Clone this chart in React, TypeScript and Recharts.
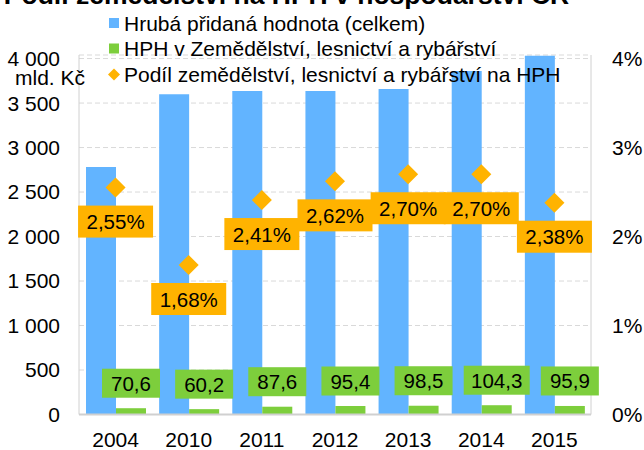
import React from 'react';
import { ComposedChart, Bar, Line, XAxis, YAxis, CartesianGrid, LabelList } from 'recharts';

const years = ['2004', '2010', '2011', '2012', '2013', '2014', '2015'];
const hphTotal = [2780, 3598, 3635, 3636, 3657, 3860, 4031];
const hphAgri = [70.6, 60.2, 87.6, 95.4, 98.5, 104.3, 95.9];
const agriShare = [2.55, 1.68, 2.41, 2.62, 2.7, 2.7, 2.38];
const leftTicks = [0, 500, 1000, 1500, 2000, 2500, 3000, 3500, 4000];
const rightTicks = [0, 1, 2, 3, 4];
const seriesNames = [
  'Hrubá přidaná hodnota (celkem)',
  'HPH v Zemědělství, lesnictví a rybářství',
  'Podíl zemědělství, lesnictví a rybářství na HPH',
];
const titleText = 'Podíl zemědělství na HPH v hospodářství ČR';
const unitText = 'mld. Kč';

const data = years.map((y, i) => ({
  year: y,
  total: hphTotal[i],
  agri: hphAgri[i],
  share: agriShare[i],
}));

const BLUE = '#62B4FF';
const GREEN = '#7DCE3C';
const ORANGE = '#FFB300';
const GRID = '#D9D9D9';
const AXIS = '#D0D0D0';
const FONT = '"Liberation Sans", Arial, sans-serif';
const FS = 21;

const fmtThousands = (v: number) =>
  v >= 1000 ? `${Math.floor(v / 1000)} ${String(v % 1000).padStart(3, '0')}` : String(v);
const fmtComma = (v: number, d: number) => v.toFixed(d).replace('.', ',');

const Diamond = (props: any) => {
  const { cx, cy, index } = props;
  if (cx == null || cy == null) return <g key={`d${index}`} />;
  const r = 10;
  return (
    <path
      key={`d${index}`}
      d={`M${cx},${cy - r} L${cx + r},${cy} L${cx},${cy + r} L${cx - r},${cy} Z`}
      fill={ORANGE}
    />
  );
};

const ShareLabel = (props: any) => {
  const { x, y, value } = props;
  const w = 75;
  const h = 32;
  const cy = y + 34;
  return (
    <g>
      <rect x={x - w / 2} y={cy - h / 2} width={w} height={h} fill={ORANGE} />
      <text x={x} y={cy} textAnchor="middle" dominantBaseline="central" fontSize={20.5} fontFamily={FONT} fill="#000">
        {fmtComma(value, 2) + '%'}
      </text>
    </g>
  );
};

const AgriLabel = (props: any) => {
  const { x, y, width, value } = props;
  const cx = x + width / 2;
  const cy = y - 25;
  const h = 29;
  const w = String(value).length > 4 ? 66 : 58;
  return (
    <g>
      <rect x={cx - w / 2} y={cy - h / 2} width={w} height={h} fill={GREEN} />
      <text x={cx} y={cy} textAnchor="middle" dominantBaseline="central" fontSize={20.5} fontFamily={FONT} fill="#000">
        {fmtComma(value, 1)}
      </text>
    </g>
  );
};

export default function App() {
  return (
    <div style={{ position: 'absolute', left: 0, top: 0, width: 644, height: 450, background: '#fff', overflow: 'hidden' }}>
      <ComposedChart
        width={644}
        height={450}
        data={data}
        margin={{ top: 55, right: 0, bottom: 0, left: 0 }}
        barGap={0}
      >
        <CartesianGrid vertical={false} stroke={GRID} strokeDasharray="5 3" yAxisId="left" />
        <XAxis
          dataKey="year"
          height={35.5}
          tickLine={false}
          tickSize={6}
          tickMargin={12}
          axisLine={{ stroke: AXIS, strokeWidth: 2 }}
          tick={{ fontSize: FS, fontFamily: FONT, fill: '#000' }}
          interval={0}
        />
        <YAxis
          yAxisId="left"
          orientation="left"
          width={79}
          domain={[0, 4040]}
          ticks={leftTicks}
          interval={0}
          tickLine={false}
          tickSize={6}
          tickMargin={13}
          axisLine={{ stroke: AXIS }}
          tickFormatter={fmtThousands}
          tick={{ fontSize: FS, fontFamily: FONT, fill: '#000' }}
        />
        <YAxis
          yAxisId="right"
          orientation="right"
          width={53}
          domain={[0, 4.04]}
          ticks={rightTicks}
          interval={0}
          tickLine={false}
          tickSize={6}
          tickMargin={15}
          axisLine={{ stroke: AXIS }}
          tickFormatter={(v: number) => `${v}%`}
          tick={{ fontSize: FS, fontFamily: FONT, fill: '#000', textAnchor: 'start' }}
        />
        <Bar yAxisId="left" dataKey="total" fill={BLUE} barSize={30} isAnimationActive={false} />
        <Bar yAxisId="left" dataKey="agri" fill={GREEN} barSize={30} isAnimationActive={false}>
          <LabelList dataKey="agri" content={AgriLabel} />
        </Bar>
        <Line
          yAxisId="right"
          dataKey="share"
          stroke="none"
          strokeWidth={0}
          dot={Diamond}
          activeDot={false}
          isAnimationActive={false}
        >
          <LabelList dataKey="share" content={ShareLabel} />
        </Line>
      </ComposedChart>
      <svg
        width={644}
        height={450}
        style={{ position: 'absolute', left: 0, top: 0, pointerEvents: 'none' }}
      >
        <text x={286.5} y={4} textAnchor="middle" fontSize={26.5} fontWeight="bold" fontFamily={FONT} fill="#000">
          {titleText}
        </text>
        <rect x={109} y={18} width={10} height={10} fill={BLUE} />
        <text x={124} y={30.5} fontSize={FS} fontFamily={FONT} fill="#000">{seriesNames[0]}</text>
        <rect x={109} y={43.5} width={10} height={10} fill={GREEN} />
        <text x={124} y={56} fontSize={FS} fontFamily={FONT} fill="#000">{seriesNames[1]}</text>
        <path d="M114,68.5 L120,74.5 L114,80.5 L108,74.5 Z" fill={ORANGE} />
        <text x={124} y={81.5} fontSize={FS} fontFamily={FONT} fill="#000">{seriesNames[2]}</text>
        <text x={15} y={85} fontSize={FS} fontFamily={FONT} fill="#000">{unitText}</text>
      </svg>
    </div>
  );
}
